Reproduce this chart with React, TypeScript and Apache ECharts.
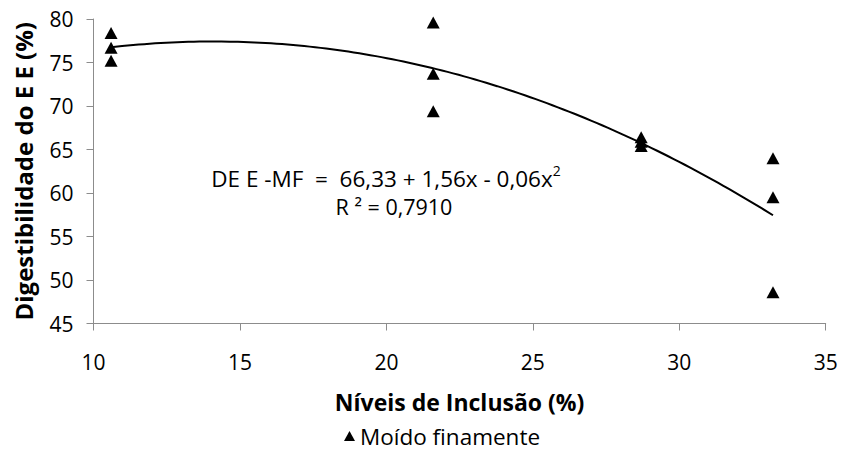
import React, { useEffect, useRef } from "react";
import * as echarts from "echarts";

// Inclusion levels (%) and the three replicate observations at each level
const xLevels = [10.6, 21.6, 28.7, 33.2];
const rep1 = [78.4, 79.6, 66.4, 64.0];
const rep2 = [76.7, 73.7, 65.9, 59.5];
const rep3 = [75.2, 69.4, 65.4, 48.6];

const xTicks = [10, 15, 20, 25, 30, 35];
const yTicks = [45, 50, 55, 60, 65, 70, 75, 80];

const seriesName = "Moído finamente";
const equationText = "DE E -MF  =  66,33 + 1,56x - 0,06x";
const r2Text = "R ² = 0,7910";
const xTitle = "Níveis de Inclusão (%)";
const yTitle = "Digestibilidade do E E (%)";

const FONT = "'Open Sans', 'Noto Sans', sans-serif";

// least-squares quadratic trendline fitted to the observations
function fitQuadratic(xs: number[], ys: number[]) {
  let s0 = 0, s1 = 0, s2 = 0, s3 = 0, s4 = 0, t0 = 0, t1 = 0, t2 = 0;
  xs.forEach((x, i) => {
    const y = ys[i];
    s0 += 1; s1 += x; s2 += x * x; s3 += x * x * x; s4 += x * x * x * x;
    t0 += y; t1 += x * y; t2 += x * x * y;
  });
  const A = [
    [s0, s1, s2, t0],
    [s1, s2, s3, t1],
    [s2, s3, s4, t2],
  ];
  for (let i = 0; i < 3; i++) {
    for (let k = i + 1; k < 3; k++) {
      const f = A[k][i] / A[i][i];
      for (let j = i; j < 4; j++) A[k][j] -= f * A[i][j];
    }
  }
  const c = [0, 0, 0];
  for (let i = 2; i >= 0; i--) {
    let s = A[i][3];
    for (let j = i + 1; j < 3; j++) s -= A[i][j] * c[j];
    c[i] = s / A[i][i];
  }
  return c;
}

export default function App() {
  const ref = useRef<HTMLDivElement>(null);

  useEffect(() => {
    if (!ref.current) return;
    const chart = echarts.init(ref.current, undefined, { renderer: "svg" });

    const points: number[][] = [];
    const allX: number[] = [];
    const allY: number[] = [];
    [rep1, rep2, rep3].forEach((rep) => {
      rep.forEach((v, i) => {
        points.push([xLevels[i], v]);
        allX.push(xLevels[i]);
        allY.push(v);
      });
    });
    const [a, b, c2] = fitQuadratic(allX, allY);
    const x0 = xLevels[0];
    const x1 = xLevels[xLevels.length - 1];
    const trend: number[][] = [];
    const steps = 60;
    for (let i = 0; i <= steps; i++) {
      const x = x0 + ((x1 - x0) * i) / steps;
      trend.push([x, a + b * x + c2 * x * x]);
    }

    const axisGrey = "#8c8c8c";

    chart.setOption({
      animation: false,
      backgroundColor: "#ffffff",
      textStyle: { fontFamily: FONT },
      grid: { left: 93.5, right: 16.3, top: 19, bottom: 127.5, containLabel: false },
      xAxis: {
        type: "value",
        min: xTicks[0],
        max: xTicks[xTicks.length - 1],
        interval: 5,
        name: xTitle,
        nameLocation: "middle",
        nameGap: 67,
        nameTextStyle: { fontFamily: FONT, fontSize: 23, fontWeight: "bold", color: "#000" },
        axisLine: { show: true, lineStyle: { color: axisGrey, width: 1 } },
        axisTick: { show: true, length: 7, lineStyle: { color: axisGrey } },
        axisLabel: { fontFamily: FONT, fontSize: 21, color: "#000", margin: 28 },
        splitLine: { show: false },
      },
      yAxis: {
        type: "value",
        min: yTicks[0],
        max: yTicks[yTicks.length - 1],
        interval: 5,
        name: yTitle,
        nameLocation: "middle",
        nameGap: 58,
        nameTextStyle: { fontFamily: FONT, fontSize: 24, fontWeight: "bold", color: "#000" },
        axisLine: { show: true, lineStyle: { color: axisGrey, width: 1 } },
        axisTick: { show: true, length: 7, lineStyle: { color: axisGrey } },
        axisLabel: { fontFamily: FONT, fontSize: 21, color: "#000", margin: 20 },
        splitLine: { show: false },
      },
      legend: {
        data: [{ name: seriesName, icon: "triangle" }],
        top: 424,
        left: 344,
        padding: 0,
        itemWidth: 11,
        itemHeight: 10,
        itemGap: 6,
        textStyle: { fontFamily: FONT, fontSize: 22.5, lineHeight: 24, color: "#000" },
      },
      series: [
        {
          name: seriesName,
          type: "scatter",
          symbol: "triangle",
          symbolSize: [13, 12],
          itemStyle: { color: "#000", opacity: 1 },
          data: points,
          z: 3,
        },
        {
          name: "trend",
          type: "line",
          data: trend,
          showSymbol: false,
          symbol: "none",
          smooth: true,
          lineStyle: { color: "#000", width: 2 },
          z: 2,
        },
      ],
      graphic: [
        {
          type: "text",
          x: 386,
          y: 178,
          style: {
            text: "{m|" + equationText + "}{s|2}",
            align: "center",
            verticalAlign: "middle",
            rich: {
              m: { fontFamily: FONT, fontSize: 22.5, fill: "#000" },
              s: { fontFamily: FONT, fontSize: 14, fill: "#000", verticalAlign: "top", padding: [0, 0, 15, 0] },
            },
          },
        },
        {
          type: "text",
          x: 394,
          y: 206,
          style: {
            text: r2Text,
            align: "center",
            verticalAlign: "middle",
            fontFamily: FONT,
            fontSize: 21.5,
            fill: "#000",
          },
        },
      ],
    });

    return () => chart.dispose();
  }, []);

  return (
    <div
      ref={ref}
      style={{ width: 842, height: 451, position: "fixed", left: 0, top: 0 }}
    />
  );
}
